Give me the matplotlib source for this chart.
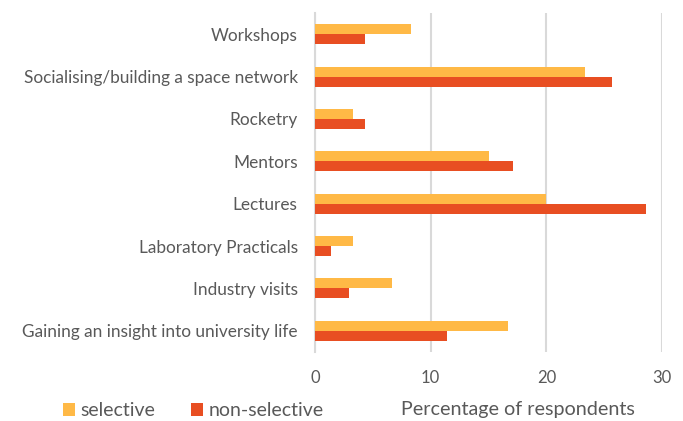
import matplotlib
matplotlib.use("Agg")
import matplotlib.pyplot as plt
import numpy as np

categories = ["Gaining an insight into university life", "Industry visits",
              "Laboratory Practicals", "Lectures", "Mentors", "Rocketry",
              "Socialising/building a space network", "Workshops"]
selective = [16.7, 6.7, 3.3, 20.0, 15.0, 3.3, 23.3, 8.3]
non_selective = [11.4, 2.9, 1.4, 28.6, 17.1, 4.3, 25.7, 4.3]
xticks = [0, 10, 20, 30]

plt.rcParams['font.family'] = ['Lato', 'DejaVu Sans']
c_sel = '#FFB946'
c_non = '#E84E22'
txt = '#595959'

fig = plt.figure(figsize=(6.83, 4.21), dpi=100)
ax = fig.add_axes([315/683, 1-352/421, (662-315)/683, (352-13)/421])

y = np.arange(len(categories))
h = 0.236
ax.barh(y + h/2, selective, height=h, color=c_sel, label='selective', zorder=3)
ax.barh(y - h/2, non_selective, height=h, color=c_non, label='non-selective', zorder=3)

ax.set_xlim(0, 30)
ax.set_ylim(-0.5, len(categories) - 0.5)
ax.set_xticks(xticks)
ax.set_xticklabels([str(v) for v in xticks], fontsize=12, color=txt)
ax.set_yticks(y)
ax.set_yticklabels(categories, fontsize=12.4, color=txt)
ax.tick_params(axis='y', length=0, pad=12.5)
ax.tick_params(axis='x', length=0, pad=13)
ax.grid(axis='x', color='#D9D9D9', linewidth=1.5, zorder=0)
for s in ['top', 'right', 'bottom']:
    ax.spines[s].set_visible(False)
ax.spines['left'].set_color('#D9D9D9')
ax.spines['left'].set_linewidth(1.5)

fig.text(518/683, 1-409/421, 'Percentage of respondents', ha='center', va='center',
         fontsize=14.2, color=txt)
leg = fig.legend(loc='center left', bbox_to_anchor=(45/683, 1-411/421), ncol=2,
                 frameon=False, fontsize=14, handlelength=0.62, handleheight=0.62,
                 handletextpad=0.3, columnspacing=1.85, labelcolor=txt)

fig.savefig('out.png', dpi=100)
